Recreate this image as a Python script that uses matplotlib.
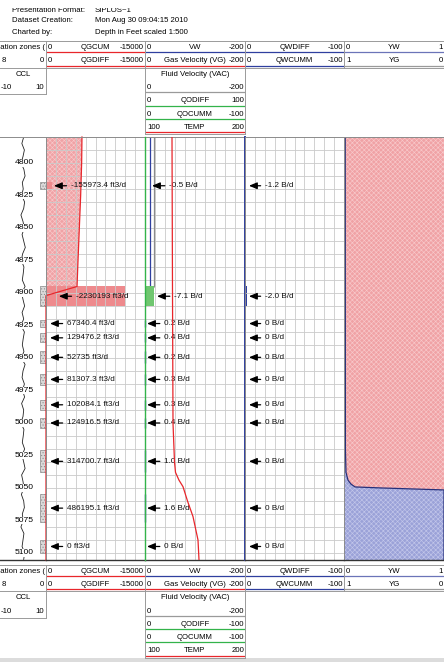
import matplotlib
matplotlib.use("Agg")
import matplotlib.pyplot as plt
from matplotlib.patches import Rectangle
from matplotlib.lines import Line2D
import numpy as np

plt.rcParams['font.family'] = ['Liberation Sans', 'DejaVu Sans']
plt.rcParams['font.size'] = 5.6
plt.rcParams['hatch.linewidth'] = 0.45

# perforated intervals (ft) and the rates reported for each
zone_top = [4815, 4895, 4921, 4931, 4945, 4962, 4982, 4996, 5021, 5055, 5090]
zone_bot = [4820, 4910, 4926, 4938, 4954, 4971, 4990, 5004, 5038, 5076, 5100]
qg_rate = [-155973.4, -2230193, 67340.4, 129476.2, 52735, 81307.3,
           102084.1, 124916.5, 314700.7, 486195.1, 0]
qo_rate = [-0.5, -7.1, 0.2, 0.4, 0.2, 0.3, 0.3, 0.4, 1.0, 1.6, 0]
qw_rate = [-1.2, -2.0, 0, 0, 0, 0, 0, 0, 0, 0, 0]

# cumulative gas
qgcum_depth = [4780, 4800, 4825, 4850, 4875, 4895, 4902, 5105.4]
qgcum = [-5450, -5400, -5250, -5050, -4850, -4700, 0, 0]

# water velocity and fluid velocity above the gas entry
vw_depth = [4780, 4895]
vw = [-9, -9]
vac_depth = [4780, 4895, 4905]
vac = [-19, -19, 0]

# temperature
temp_depth = [4780, 4900, 5000, 5030, 5038, 5044, 5049, 5060, 5072, 5090, 5105.4]
temp = [127.0, 127.5, 128.0, 129.5, 130.5, 134.0, 138.0, 142.5, 148.0, 153.0, 154.0]

# water holdup
yw_depth = [4780, 5020, 5038, 5044, 5047, 5049.2, 5050, 5051.5, 5105.4]
yw = [0.012, 0.014, 0.02, 0.04, 0.07, 0.11, 0.38, 1.0, 1.0]

# casing collar locator, every 5 ft from 4780
ccl_depth = np.arange(4780, 5106, 5)
ccl = [0.3, -0.5, 0.6, 0.0, -0.8, 0.4, 0.9, -0.3, 0.1, -0.6, 0.7,
       0.3, -0.9, 0.0, 0.6, -0.4, 0.3, 1.0, -0.2, -0.7, 0.4, 0.1,
       -0.3, 0.9, -0.6, 0.0, 0.7, -0.4, 0.3, -0.9, 0.6, 0.1, -0.3,
       0.4, -0.7, 0.9, 0.0, -0.4, 0.6, -0.2, 0.7, -0.6, 0.3, 0.0,
       -0.9, 0.4, 0.1, -0.3, 0.7, -0.4, 0.3, 0.9, -0.6, 0.0, 0.4,
       -0.7, 0.3, 0.6, -0.3, 0.1, -0.9, 0.4, 0.0, -0.4, 0.7, 0.3]

depth_ticks = list(range(4800, 5101, 25))

W, H = 444, 662
LOG_TOP, LOG_BOT = 137, 560
EDGES = [0, 46, 145, 245, 344, 444]
DEPTH_TOP, DEPTH_BOT = 4780, 5105.4
GAS_UNIT = 186.0      # ft3/d per QG track unit
FLOW_FULL = -80.0     # B/d across the velocity track

RED = '#e8262b'
BLUE = '#2f3f9f'
GREEN = '#33b34a'
GRID = '#cacaca'
FRAME = '#8c8c8c'
PINK, PINK_H = '#f0a2a5', '#f8c8ca'
LILAC, LILAC_H = '#9ba2d8', '#c2c6ea'

fig = plt.figure(figsize=(W / 100, H / 100), dpi=100)


def box(x0, x1, y0, y1):
    return [x0 / W, 1 - y1 / H, (x1 - x0) / W, (y1 - y0) / H]


def fx(px):
    return px / W


def fy(py):
    return 1 - py / H


def track(i, xlim, grid=True):
    ax = fig.add_axes(box(EDGES[i], EDGES[i + 1], LOG_TOP, LOG_BOT))
    ax.set_xlim(*xlim)
    ax.set_ylim(DEPTH_BOT, DEPTH_TOP)
    if grid:
        ax.set_xticks(np.linspace(xlim[0], xlim[1], 11))
        ax.set_yticks(np.arange(4780, 5106, 10))
        ax.grid(True, color=GRID, lw=0.6)
    else:
        ax.set_xticks([])
        ax.set_yticks([])
    ax.tick_params(length=0, labelbottom=False, labelleft=False)
    for s in ax.spines.values():
        s.set_color(FRAME)
        s.set_linewidth(0.7)
    ax.spines['bottom'].set_color('#333333')
    ax.spines['bottom'].set_linewidth(1.0)
    return ax


def overlay(ax, xlim):
    o = ax.twiny()
    o.set_xlim(*xlim)
    o.axis('off')
    return o


def flow_text(r):
    return '0' if r == 0 else f'{r:.1f}'


def rate_label(ax, depth, text, head, start):
    ax.annotate(text, xy=(head, depth), xycoords=('axes fraction', 'data'),
                xytext=(start, depth), textcoords=('axes fraction', 'data'),
                ha='left', va='center', color='#111111', fontsize=5.9,
                arrowprops=dict(arrowstyle='-|>,head_length=0.6,head_width=0.25',
                                color='black', lw=0.9, shrinkA=1, shrinkB=0,
                                mutation_scale=8))


# track 1: depth, CCL and perforations
ax1 = track(0, (-10, 10), grid=False)
ax1.spines['left'].set_visible(False)
ax1.spines['right'].set_visible(False)
ax1.plot(ccl, ccl_depth, color='#222222', lw=0.6)
for t, b in zip(zone_top, zone_bot):
    ax1.add_patch(Rectangle((7.4, t), 2.6, b - t, facecolor='#dadada',
                            edgecolor='#8a8a8a', hatch='......', lw=0.5))
for d in depth_ticks:
    ax1.text(0.73, d, str(d), transform=ax1.get_yaxis_transform(),
             ha='right', va='center', fontsize=6.1,
             bbox=dict(fc='white', ec='none', pad=0.2))

# track 2: gas rates
ax2 = track(1, (0, -15000))
ax2.fill_betweenx(qgcum_depth, 0, qgcum, facecolor=PINK, edgecolor=PINK_H,
                  hatch='xxxxxxx', lw=0)
for t, b, r in zip(zone_top, zone_bot, qg_rate):
    ax2.fill_betweenx([t, b], 0, r / GAS_UNIT, facecolor='#ee8a8d', lw=0)
ax2.plot(qgcum, qgcum_depth, color=RED, lw=0.9, clip_on=False)
for t, b, r in zip(zone_top, zone_bot, qg_rate):
    if r < -1e6:
        head = 0.13
    elif r < 0:
        head = 0.08
    else:
        head = 0.04
    rate_label(ax2, (t + b) / 2, f'{r:.10g} ft3/d', head, head + 0.17)

# track 3: velocities, oil and temperature
ax3 = track(2, (0, -200))
qo_ax = overlay(ax3, (0, FLOW_FULL))
for t, b, r in zip(zone_top, zone_bot, qo_rate):
    if r < 0:
        qo_ax.fill_betweenx([t, b], 0, r, facecolor='#6fc66f', lw=0)
qo_ax.axvline(0, color=GREEN, lw=1.0, clip_on=False)
ax3.plot(vw, vw_depth, color=BLUE, lw=0.9)
ax3.plot(vac, vac_depth, color='#8c8c8c', lw=0.9)
for t, b, r in zip(zone_top, zone_bot, qo_rate):
    if r > 0:
        ax3.vlines(0, t, b, color=BLUE, lw=1.0, clip_on=False)
temp_ax = overlay(ax3, (100, 200))
temp_ax.plot(temp, temp_depth, color=RED, lw=0.9)
for t, b, r in zip(zone_top, zone_bot, qo_rate):
    if r < -5:
        head = 0.12
    elif r < 0:
        head = 0.07
    else:
        head = 0.02
    rate_label(ax3, (t + b) / 2, f'{flow_text(r)} B/d', head, head + 0.17)

# track 4: water
ax4 = track(3, (0, -100))
ax4.axvline(0, color=BLUE, lw=1.4, clip_on=False)
for t, b, r in zip(zone_top, zone_bot, qw_rate):
    if r < 0:
        ax4.fill_betweenx([t, b], 0, r, facecolor=BLUE, lw=0)
    rate_label(ax4, (t + b) / 2, f'{flow_text(r)} B/d', 0.04, 0.2)

# track 5: holdups
ax5 = track(4, (0, 1), grid=False)
ax5.spines['right'].set_visible(False)
ax5.fill_betweenx(yw_depth, 0, yw, facecolor=LILAC, edgecolor=LILAC_H,
                  hatch='xxxxxxx', lw=0)
ax5.fill_betweenx(yw_depth, yw, 1, facecolor=PINK, edgecolor=PINK_H,
                  hatch='xxxxxxx', lw=0)
ax5.plot(yw, yw_depth, color='#26307a', lw=0.9)


# curve header tables
def hline(x0, x1, y, color='#9a9a9a', lw=0.7):
    fig.add_artist(Line2D([fx(x0), fx(x1)], [fy(y), fy(y)], color=color, lw=lw))


def vline(x, y0, y1, color='#9a9a9a', lw=0.7):
    fig.add_artist(Line2D([fx(x), fx(x)], [fy(y0), fy(y1)], color=color, lw=lw))


def table(top, qodiff_right):
    rh = 13.3

    def yc(row):
        return fy(top + rh * (row + 0.5))

    def scale(i, row, left, mid, right, line):
        x0, x1 = EDGES[i], EDGES[i + 1]
        fig.text(fx(x0 + 2), yc(row), left, ha='left', va='center')
        fig.text(fx((x0 + x1) / 2), yc(row), mid, ha='center', va='center')
        fig.text(fx(x1 - 1), yc(row), right, ha='right', va='center')
        if line:
            hline(x0 + 1, x1 - 1, top + rh * (row + 1) - 2, color=line, lw=0.9)

    fig.text(fx(45), yc(0), 'Perforation zones (', ha='right', va='center')
    fig.text(fx(2), yc(1), '8', ha='left', va='center')
    fig.text(fx(44), yc(1), '0', ha='right', va='center')
    fig.text(fx(23), yc(2), 'CCL', ha='center', va='center')
    fig.text(fx(1), yc(3), '-10', ha='left', va='center')
    fig.text(fx(44), yc(3), '10', ha='right', va='center')

    scale(1, 0, '0', 'QGCUM', '-15000', RED)
    scale(1, 1, '0', 'QGDIFF', '-15000', RED)
    scale(2, 0, '0', 'VW', '-200', BLUE)
    scale(2, 1, '0', 'Gas Velocity (VG)', '-200', RED)
    scale(2, 2, '', 'Fluid Velocity (VAC)', '', None)
    scale(2, 3, '0', '', '-200', '#9a9a9a')
    scale(2, 4, '0', 'QODIFF', qodiff_right, GREEN)
    scale(2, 5, '0', 'QOCUMM', '-100', GREEN)
    scale(2, 6, '100', 'TEMP', '200', RED)
    scale(3, 0, '0', 'QWDIFF', '-100', BLUE)
    scale(3, 1, '0', 'QWCUMM', '-100', BLUE)
    scale(4, 0, '0', 'YW', '1', '#6b74b8')
    scale(4, 1, '1', 'YG', '0', '#9a9a9a')

    hline(0, W, top)
    hline(0, W, top + 2 * rh)
    hline(0, 46, top + 4 * rh)
    hline(145, 245, top + 7 * rh)
    vline(46, top, top + 4 * rh)
    vline(145, top, top + 7 * rh)
    vline(245, top, top + 7 * rh)
    vline(344, top, top + 2 * rh)


table(41, '100')
table(564.5, '-100')

# page heading
heading = [('Presentation Format:', 'SIPLOS~1'),
           ('Dataset Creation:', 'Mon Aug 30 09:04:15 2010'),
           ('Charted by:', 'Depth in Feet scaled 1:500')]
for k, (name, value) in enumerate(heading):
    fig.text(fx(12), fy(10 + 11 * k), name, ha='left', va='center')
    fig.text(fx(95), fy(10 + 11 * k), value, ha='left', va='center')
fig.add_artist(Rectangle((0, fy(8)), 1, 1 - fy(8), transform=fig.transFigure,
                         facecolor='white', edgecolor='none', zorder=5))
fig.add_artist(Rectangle((0, 0), 1, fy(658), transform=fig.transFigure,
                         facecolor='#dcdcdc', edgecolor='none'))

fig.savefig('out.png', dpi=100)
